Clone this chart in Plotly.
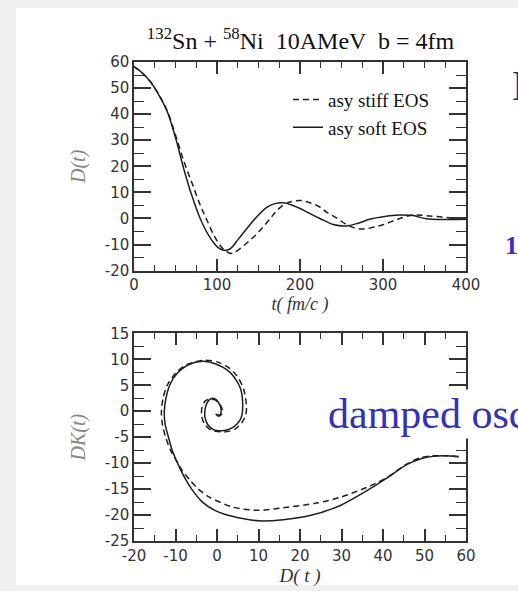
import plotly.graph_objects as go

# ---------------- data ----------------
# D(t) curves, top panel
t_stiff = [0, 10, 20, 30, 40, 50, 60, 70, 80, 87, 97, 107, 117, 125, 136, 146, 156, 165, 172, 184,
           200, 212, 224, 232, 244, 256, 266, 276, 288, 300, 310, 320, 336, 352, 376, 400]
D_stiff = [58.2, 55.8, 52.3, 47.5, 41.3, 32.0, 22.0, 13.5, 5.0, 0.0, -6.9, -11.5, -13.4, -12.2, -9.4, -6.5,
           -3.1, 0.3, 3.0, 5.9, 6.9, 6.0, 4.4, 2.4, 0.2, -2.3, -3.6, -4.0, -3.4, -2.4, -1.2, 0.0, 1.3, 1.1, 0.4, 0.1]

t_soft = [0, 10, 20, 30, 40, 50, 60, 70, 80, 90, 100, 108, 116, 125, 135, 148, 160, 170, 180, 190,
          204, 215, 224, 240, 256, 270, 285, 300, 320, 336, 352, 376, 400]
D_soft = [58.2, 55.8, 52.3, 47.3, 41.0, 31.0, 19.0, 8.5, -0.2, -6.5, -10.8, -12.2, -11.6, -8.2, -4.2, 0.7,
          4.3, 5.7, 6.0, 5.2, 3.2, 1.4, 0.0, -2.3, -2.85, -1.8, -0.2, 0.7, 1.3, 1.1, -0.1, -0.4, -0.3]

# phase space DK(t) vs D(t), bottom panel
ps_D_stiff = [58.2, 55.0, 52.0, 48.9, 45.7, 40.9, 36.0, 29.6, 24.0, 16.0, 10.0, 3.9, -1.7, -4.5, -6.5,
              -8.3, -9.8, -11.2, -12.3, -13.1, -13.4, -13.0, -12.0, -10.0, -7.5, -3.3, 0.0, 2.8, 4.8,
              6.4, 7.1, 6.9, 5.9, 4.2, 1.7, -1.5, -3.0, -3.7, -3.6, -2.8, -1.9, -0.5, 0.6, 1.3, 1.2, 0.5, 0.1]
ps_K_stiff = [-8.7, -8.6, -8.6, -9.0, -10.2, -12.8, -14.7, -16.6, -17.7, -18.6, -19.1, -18.5, -16.6, -15.0,
              -13.3, -11.5, -9.5, -7.5, -5.2, -2.8, -0.3, 2.5, 5.0, 7.3, 8.9, 9.8, 9.5, 8.4, 6.8,
              4.3, 1.0, -0.8, -2.3, -3.5, -4.0, -3.6, -2.5, -0.9, 0.8, 2.0, 2.3, 2.2, 1.4, 0.3, -0.5, -0.9, -0.4]

ps_D_soft = [58.2, 55.0, 52.0, 49.3, 45.7, 40.9, 35.3, 29.6, 22.4, 16.0, 10.0, 3.9, 0.0, -3.5, -6.1,
             -8.0, -9.5, -10.8, -11.7, -12.5, -12.7, -12.3, -11.3, -9.6, -7.0, -3.5, 0.0, 2.5, 4.1,
             5.6, 6.2, 5.8, 4.9, 3.4, 1.7, -0.7, -2.2, -2.9, -2.9, -2.4, -1.5, -0.5, 0.5, 1.0, 0.8, 0.2, -0.3]
ps_K_soft = [-8.8, -8.6, -8.7, -9.1, -10.3, -12.9, -15.7, -18.2, -20.1, -20.9, -21.1, -20.3, -19.3, -17.5,
             -15.0, -12.5, -10.0, -7.5, -5.0, -2.5, 0.0, 2.5, 5.2, 7.3, 8.9, 9.6, 9.0, 7.9, 6.6,
             4.5, 1.0, -1.3, -2.4, -3.3, -3.7, -3.6, -2.6, -1.2, 0.2, 1.6, 2.4, 2.4, 1.5, 0.3, -0.6, -0.9, -0.5]

# ticks
x1_ticks = [0, 100, 200, 300, 400]
x1_labels = ["0", "100", "200", "300", "400"]
y1_ticks = [-20, -10, 0, 10, 20, 30, 40, 50, 60]
y1_labels = ["-20", "-10", "0", "10", "20", "30", "40", "50", "60"]
x2_ticks = [-20, -10, 0, 10, 20, 30, 40, 50, 60]
x2_labels = ["-20", "-10", "0", "10", "20", "30", "40", "50", "60"]
y2_ticks = [-25, -20, -15, -10, -5, 0, 5, 10, 15]
y2_labels = ["-25", "-20", "-15", "-10", "-5", "0", "5", "10", "15"]

# ---------------- layout geometry (pixels) ----------------
W, H = 518, 591
L, R, T, B = 134, 466, 62, 551
PW, PH = R - L, B - T
top_bot, bot_top = 275, 339


def px2x(px):
    return (px - L) / PW


def py2y(py):
    return (B - py) / PH


line_col = "#1e1e1e"
dash_pat = "6px,4px"

fig = go.Figure()
fig.add_trace(go.Scatter(x=t_stiff, y=D_stiff, mode="lines", name="asy stiff EOS",
                         line=dict(color=line_col, width=1.5, dash=dash_pat, shape="spline", smoothing=1.0),
                         xaxis="x", yaxis="y"))
fig.add_trace(go.Scatter(x=t_soft, y=D_soft, mode="lines", name="asy soft EOS",
                         line=dict(color=line_col, width=1.5, shape="spline", smoothing=1.0),
                         xaxis="x", yaxis="y"))
fig.add_trace(go.Scatter(x=ps_D_stiff, y=ps_K_stiff, mode="lines", showlegend=False,
                         line=dict(color=line_col, width=1.5, dash=dash_pat, shape="spline", smoothing=0.8),
                         xaxis="x2", yaxis="y2"))
fig.add_trace(go.Scatter(x=ps_D_soft, y=ps_K_soft, mode="lines", showlegend=False,
                         line=dict(color=line_col, width=1.5, shape="spline", smoothing=0.8),
                         xaxis="x2", yaxis="y2"))

tick_font = dict(family="DejaVu Sans", size=15, color="#333333")
axcol = "#333333"
common = dict(showline=True, linecolor=axcol, linewidth=1.5, mirror="ticks", ticks="inside",
              tickcolor=axcol, tickwidth=1.5, showgrid=False, zeroline=False, tickfont=tick_font,
              fixedrange=True)

fig.update_layout(
    width=W, height=H,
    margin=dict(l=L, r=W - R, t=T, b=H - B),
    paper_bgcolor="#f0f0f0",
    plot_bgcolor="white",
    showlegend=True,
    xaxis=dict(domain=[0, 1], anchor="y", range=[0, 400], tickvals=x1_ticks, ticktext=x1_labels,
               ticklen=12, minor=dict(dtick=25, ticks="inside", ticklen=6, tickcolor=axcol, tickwidth=1.2),
               title=dict(text="<i>t( fm/c )</i>", font=dict(family="Liberation Serif", size=18, color="#333"),
                          standoff=1),
               **common),
    yaxis=dict(domain=[py2y(top_bot), 1], anchor="x", range=[-20, 60], tickvals=y1_ticks, ticktext=y1_labels,
               ticklen=17, minor=dict(dtick=5, ticks="inside", ticklen=10, tickcolor=axcol, tickwidth=1.2),
               title=dict(text="<i>D(t)</i>", font=dict(family="Liberation Serif", size=20, color="#888"),
                          standoff=14),
               **common),
    xaxis2=dict(domain=[0, 1], anchor="y2", range=[-20, 60], tickvals=x2_ticks, ticktext=x2_labels,
                ticklen=12, minor=dict(dtick=5, ticks="inside", ticklen=6, tickcolor=axcol, tickwidth=1.2),
                title=dict(text="<i>D( t )</i>", font=dict(family="Liberation Serif", size=19, color="#333"),
                           standoff=1),
                **common),
    yaxis2=dict(domain=[0, py2y(bot_top)], anchor="x2", range=[-25, 15], tickvals=y2_ticks, ticktext=y2_labels,
                ticklen=17, minor=dict(dtick=2.5, ticks="inside", ticklen=10, tickcolor=axcol, tickwidth=1.2),
                title=dict(text="<i>DK(t)</i>", font=dict(family="Liberation Serif", size=20, color="#888"),
                           standoff=14),
                **common),
    legend=dict(x=px2x(288), y=py2y(81), xanchor="left", yanchor="top", bgcolor="rgba(0,0,0,0)",
                font=dict(family="Liberation Serif", size=19, color="#111"), tracegroupgap=0),
    title=dict(text="<sup>132</sup>Sn + <sup>58</sup>Ni  10AMeV  b = 4fm",
               font=dict(family="Liberation Serif", size=24, color="#111"),
               x=300.5 / W, xanchor="center", xref="container", y=1 - 41 / H, yanchor="middle", yref="container"),
    shapes=[dict(type="rect", xref="paper", yref="paper", x0=px2x(16), x1=px2x(W + 5), y0=py2y(H + 5), y1=py2y(7),
                 fillcolor="white", line=dict(width=0), layer="below")],
    annotations=[
        dict(text="damped oscillation", xref="paper", yref="paper", x=px2x(326), y=py2y(421),
             xanchor="left", yanchor="middle", showarrow=False, bgcolor="white",
             font=dict(family="Liberation Serif", size=42, color="#3333b3")),
        dict(text="Dipole", xref="paper", yref="paper", x=px2x(510), y=py2y(87),
             xanchor="left", yanchor="middle", showarrow=False,
             font=dict(family="Liberation Serif", size=42, color="#1f2a80")),
        dict(text="<b>12</b>", xref="paper", yref="paper", x=px2x(503), y=py2y(249),
             xanchor="left", yanchor="middle", showarrow=False,
             font=dict(family="Liberation Serif", size=26, color="#3333cc")),
    ],
)

fig.write_html("out.html")
